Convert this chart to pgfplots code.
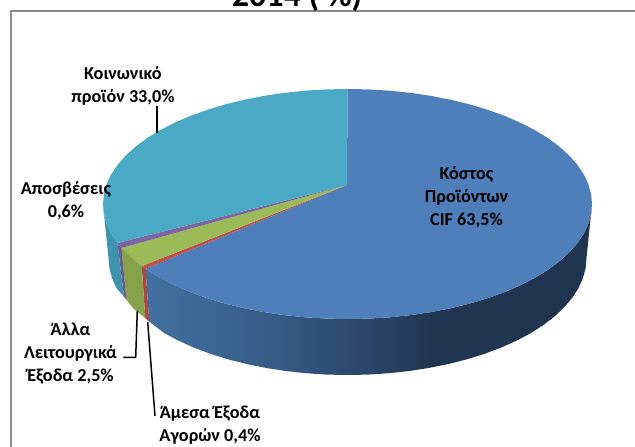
\documentclass[border=0pt]{standalone}
\usepackage{pgfplots}
\pgfplotsset{compat=1.18}
\usepackage{fontspec}
\setmainfont{Carlito}
\definecolor{cBlue}{HTML}{4E7FBA}
\definecolor{cCyan}{HTML}{4AAAC5}
\definecolor{cGreen}{HTML}{9BBB59}
\definecolor{cPurple}{HTML}{8064A2}
\definecolor{cRed}{HTML}{C0504D}
\definecolor{sCyan}{HTML}{3F93AC}
\definecolor{sGreen}{HTML}{86A24B}
\definecolor{sPurple}{HTML}{6F5790}
\definecolor{sRed}{HTML}{AE4644}
\definecolor{frameGray}{HTML}{8C8C8C}
\definecolor{bsA}{HTML}{41709F}
\definecolor{bsB}{HTML}{355A85}
\definecolor{bsC}{HTML}{2D4A6E}
\definecolor{bsD}{HTML}{203650}
\definecolor{bsE}{HTML}{1F344E}
\pgfdeclarehorizontalshading{blueside}{100bp}{
  color(0bp)=(bsA);
  color(25bp)=(bsA);
  color(40bp)=(bsB);
  color(48bp)=(bsC);
  color(57bp)=(bsD);
  color(75bp)=(bsE);
  color(100bp)=(bsE)}
\tikzset{lbl/.style={font=\fontsize{18.2}{23}\selectfont\bfseries,align=center,text=black,inner sep=0pt}}
\begin{document}
\begin{tikzpicture}
\useasboundingbox (0,0) rectangle (635pt,447pt);
\begin{axis}[
  at={(0,0)},anchor=south west,
  scale only axis,width=635pt,height=447pt,
  xmin=0,xmax=635,ymin=0,ymax=447,y dir=reverse,
  hide axis,clip=false,
]
% frame
\addplot[frameGray,line width=2pt,mark=none] coordinates {(11,447)(11,11)(635,11)};
% side walls
\addplot[draw=none,shade,shading=blueside,mark=none] coordinates {
(592,204)(591.1,214)(588.3,224)(583.7,233.8)(577.3,243.3)(569.1,252.6)(559.2,261.5)(547.8,270)(534.8,277.9)(520.4,285.3)(504.7,292.1)(487.7,298.2)(469.8,303.6)(450.8,308.2)(431.1,312.1)(410.8,315.1)(389.9,317.3)(368.8,318.6)(347.5,319)
(326.2,318.6)(305.1,317.3)(284.2,315.1)(263.9,312.1)(244.2,308.2)(225.2,303.6)(207.3,298.2)(190.3,292.1)(174.6,285.3)(160.2,277.9)(145.5,268.8)
(149.3,321.7)(164.4,333.2)(178.5,340.7)(193.9,347.6)(210.4,353.8)(228,359.3)(246.5,364)(265.8,367.9)(285.6,371)(306,373.2)(326.7,374.6)(347.5,375)
(368.3,374.6)(389,373.2)(409.4,371)(429.2,367.9)(448.5,364)(467,359.3)(484.6,353.8)(501.1,347.6)(516.5,340.7)(530.6,333.2)(543.3,325.1)(554.5,316.5)(564.1,307.4)(572.1,298)(578.4,288.3)(582.9,278.3)(585.6,268.2)(586.5,258)(592,204)};
\addplot[fill=sRed,draw=none,mark=none] coordinates {(141.7,266.1)(145.5,268.8)(149.3,321.7)(145.3,318.2)(141.7,266.1)};
\addplot[fill=sGreen,draw=none,mark=none] coordinates {(121.5,248)(141.7,266.1)(145.3,318.2)(134,309)(126.5,300)(121.5,248)};
\addplot[fill=sPurple,draw=none,mark=none] coordinates {(117.5,243)(121.5,248)(126.5,300)(124,296.8)(117.5,243)};
\addplot[fill=sCyan,draw=none,mark=none] coordinates {(103,204)(103.9,214)(106.7,224)(111.3,233.8)(117.5,243)(124,296.8)(116.6,288.3)(112.1,278.3)(109.4,268.2)(108.5,258)(103,204)};
% top faces
\addplot[fill=cBlue,draw=none,mark=none] coordinates {
(347,185)(347.5,89)(368.8,89.4)(389.9,90.7)(410.8,92.9)(431.1,95.9)(450.8,99.8)(469.8,104.4)(487.7,109.8)(504.7,115.9)(520.4,122.7)(534.8,130.1)(547.8,138)(559.2,146.5)(569.1,155.4)(577.3,164.7)(583.7,174.2)(588.3,184)(591.1,194)(592,204)
(591.1,214)(588.3,224)(583.7,233.8)(577.3,243.3)(569.1,252.6)(559.2,261.5)(547.8,270)(534.8,277.9)(520.4,285.3)(504.7,292.1)(487.7,298.2)(469.8,303.6)(450.8,308.2)(431.1,312.1)(410.8,315.1)(389.9,317.3)(368.8,318.6)(347.5,319)
(326.2,318.6)(305.1,317.3)(284.2,315.1)(263.9,312.1)(244.2,308.2)(225.2,303.6)(207.3,298.2)(190.3,292.1)(174.6,285.3)(160.2,277.9)(145.5,268.8)(347,185)};
\addplot[fill=cRed,draw=none,mark=none] coordinates {(347,185)(145.5,268.8)(141.7,266.1)(347,185)};
\addplot[fill=cGreen,draw=none,mark=none] coordinates {(347,185)(141.7,266.1)(135.8,261.5)(125.9,252.6)(121.5,248)(347,185)};
\addplot[fill=cPurple,draw=none,mark=none] coordinates {(347,185)(121.5,248)(117.5,243)(347,185)};
\addplot[fill=cCyan,draw=none,mark=none] coordinates {
(347,185)(117.5,243)(111.3,233.8)(106.7,224)(103.9,214)(103,204)(103.9,194)(106.7,184)(111.3,174.2)(117.7,164.7)(125.9,155.4)(135.8,146.5)(147.2,138)(160.2,130.1)(174.6,122.7)(190.3,115.9)(207.3,109.8)(225.2,104.4)(244.2,99.8)(263.9,95.9)(284.2,92.9)(305.1,90.7)(326.2,89.4)(347.5,89)(347,185)};
% leader lines
\addplot[black,line width=1.5pt,mark=none] coordinates {(157,106)(157,133)};
\addplot[black,line width=1.5pt,mark=none] coordinates {(137.3,311)(135.7,357.3)(123.3,357.3)};
\addplot[black,line width=1.5pt,mark=none] coordinates {(147.7,322)(155,416)};
% labels
\node[lbl] at (axis cs:123,86) {Κοινωνικό\\προϊόν 33,0\%};
\node[lbl] at (axis cs:66,201) {Αποσβέσεις\\0,6\%};
\node[lbl] at (axis cs:70.5,353.5) {Άλλα\\Λειτουργικά\\Έξοδα 2,5\%};
\node[lbl] at (axis cs:210,425) {Άμεσα Έξοδα\\Αγορών 0,4\%};
\node[lbl] at (axis cs:466.5,197.5) {Κόστος\\Προϊόντων\\CIF 63,5\%};
\node[anchor=base,inner sep=0pt,font=\fontsize{34}{34}\selectfont\bfseries] at (axis cs:297,6.5) {2014 ( \%)};
\end{axis}
\end{tikzpicture}
\end{document}
